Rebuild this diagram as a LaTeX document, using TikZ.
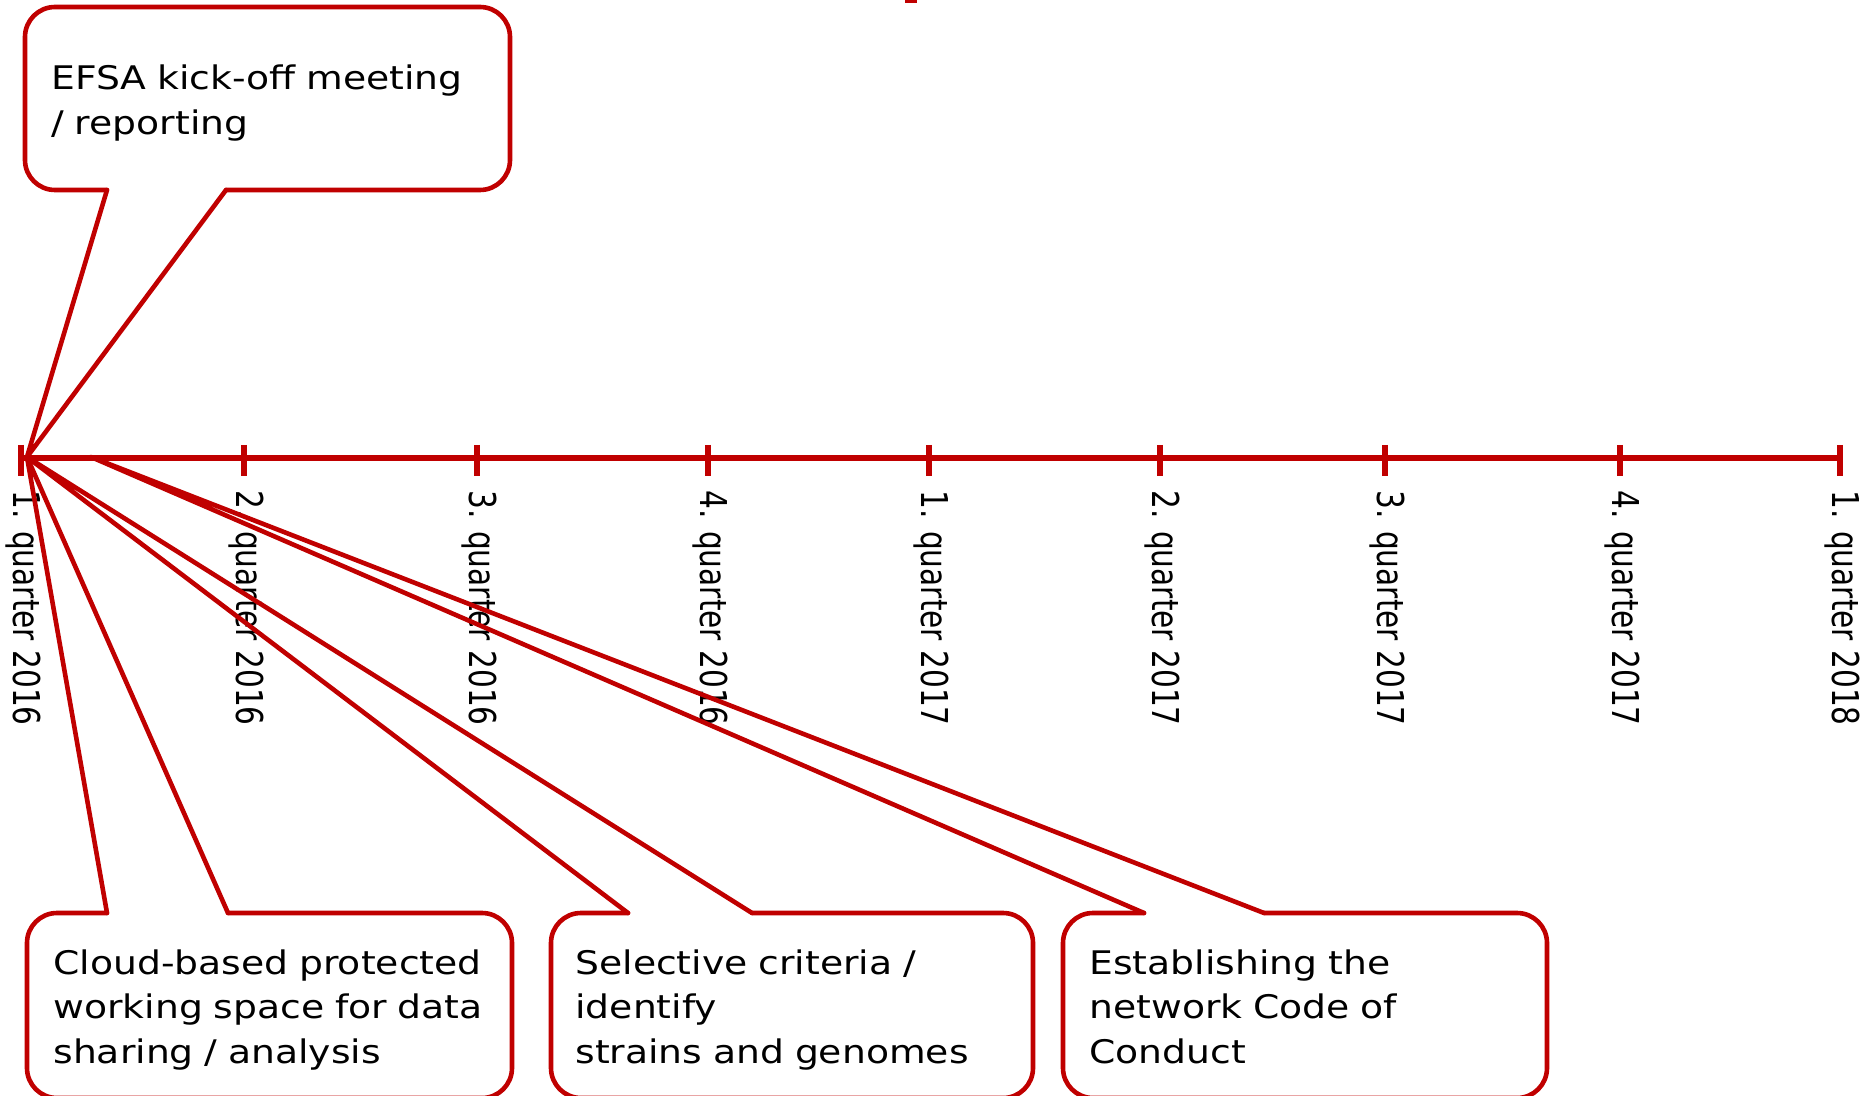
\documentclass[tikz,border=0pt]{standalone}
\usepackage{fontspec}
\usepackage{graphicx}
\newfontfamily\callfont[FakeStretch=1.16]{DejaVu Sans}
\newfontfamily\quarterfont{DejaVu Sans}
\definecolor{efsared}{RGB}{192,0,0}

\begin{document}
\begin{tikzpicture}[x=0.5pt,y=-0.5pt,
  bubble/.style={draw=efsared,line width=2.3pt,line join=round,line cap=round},
  axisline/.style={draw=efsared,line width=3pt},
  tickline/.style={draw=efsared,line width=2.6pt},
  qlabel/.style={rotate=-90,anchor=west,inner sep=0pt,
    font=\quarterfont\fontsize{14.8pt}{16pt}\selectfont},
  bubbletext/.style={anchor=base west,inner sep=0pt,align=left,text width=240pt,
    font=\callfont\fontsize{16.25pt}{22.25pt}\selectfont}]
  \useasboundingbox (0,0) rectangle (1868,1096);
  \clip (0,0) rectangle (1868,1096);

  % timeline
  \draw[axisline] (21,458) -- (1840,458);
  \draw[tickline] (21,445) -- (21,476);
  \draw[tickline] (244,445) -- (244,476);
  \draw[tickline] (477,445) -- (477,476);
  \draw[tickline] (708,445) -- (708,476);
  \draw[tickline] (929,445) -- (929,476);
  \draw[tickline] (1160,445) -- (1160,476);
  \draw[tickline] (1385,445) -- (1385,476);
  \draw[tickline] (1620,445) -- (1620,476);
  \draw[tickline] (1840,445) -- (1840,476);

  \node[qlabel] (q1) at (23,490) {\scalebox{1}[1.25]{1. quarter 2016}};
  \node[qlabel] (q2) at (246,490) {\scalebox{1}[1.25]{2. quarter 2016}};
  \node[qlabel] (q3) at (479,490) {\scalebox{1}[1.25]{3. quarter 2016}};
  \node[qlabel] (q4) at (710,490) {\scalebox{1}[1.25]{4. quarter 2016}};
  \node[qlabel] (q5) at (931,490) {\scalebox{1}[1.25]{1. quarter 2017}};
  \node[qlabel] (q6) at (1162,490) {\scalebox{1}[1.25]{2. quarter 2017}};
  \node[qlabel] (q7) at (1387,490) {\scalebox{1}[1.25]{3. quarter 2017}};
  \node[qlabel] (q8) at (1622,490) {\scalebox{1}[1.25]{4. quarter 2017}};
  \node[qlabel] (q9) at (1842,490) {\scalebox{1}[1.25]{1. quarter 2018}};

  \coordinate (tipA) at (27,457);
  \coordinate (tipB) at (91,457);

  % callouts: box outline, then the pointer
  \draw[bubble,rounded corners=15pt] (107,190) -- (25,190) -- (25,7) -- (510,7) -- (510,190) -- (226,190);
  \draw[bubble] (226,190) -- (tipA) -- (107,190);
  \draw[bubble,rounded corners=15pt] (107,913) -- (27,913) -- (27,1098) -- (512,1098) -- (512,913) -- (228,913);
  \draw[bubble] (228,913) -- (tipA) -- (107,913);
  \draw[bubble,rounded corners=15pt] (628,913) -- (551,913) -- (551,1098) -- (1033,1098) -- (1033,913) -- (752,913);
  \draw[bubble] (752,913) -- (tipA) -- (628,913);
  \draw[bubble,rounded corners=15pt] (1144,913) -- (1063,913) -- (1063,1098) -- (1547,1098) -- (1547,913) -- (1264,913);
  \draw[bubble] (1264,913) -- (tipB) -- (1144,913);

  \node[bubbletext] (kickoff) at (51,90) {EFSA kick-off meeting\\/ reporting};
  \node[bubbletext] (cloud) at (53,974) {Cloud-based protected\\working space for data\\sharing / analysis};
  \node[bubbletext] (criteria) at (575,974) {Selective criteria /\\identify\\strains and genomes};
  \node[bubbletext] (conduct) at (1089,974) {Establishing the\\network Code of\\Conduct};

  % bit of the title bar cut off at the top
  \fill[efsared] (905,0) rectangle (917,3);
\end{tikzpicture}
\end{document}
